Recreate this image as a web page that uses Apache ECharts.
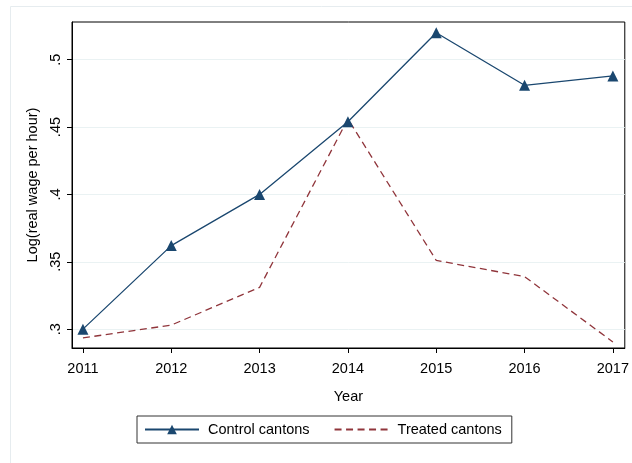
<!DOCTYPE html>
<html><head><meta charset="utf-8">
<script src="https://cdn.jsdelivr.net/npm/echarts@6/dist/echarts.min.js"></script>
<style>html,body{margin:0;padding:0;background:#fff}#c{width:632px;height:463px}</style>
</head><body><div id="c"></div>
<script>
const years = [2011, 2012, 2013, 2014, 2015, 2016, 2017];
const control = [0.300, 0.362, 0.400, 0.454, 0.520, 0.481, 0.488];
const treated = [0.2935, 0.303, 0.331, 0.456, 0.351, 0.339, 0.2905];
const yTicks = [0.3, 0.35, 0.4, 0.45, 0.5];
const yTickLabels = ['.3', '.35', '.4', '.45', '.5'];

const chart = echarts.init(document.getElementById('c'), null, {renderer: 'canvas'});
const font = 'Liberation Sans, Arial, Helvetica, sans-serif';
chart.setOption({
  animation: false,
  textStyle: {fontFamily: font},
  graphic: [{
    type: 'rect', shape: {x: 10.5, y: 6.5, width: 640, height: 470},
    style: {fill: 'none', stroke: '#e6ecef', lineWidth: 1}, silent: true, z: -10
  }],
  grid: {left: 72, top: 22, right: 4, bottom: 115, show: true, borderColor: '#000', borderWidth: 1, backgroundColor: '#fff'},
  xAxis: {
    type: 'value', min: 2010.876, max: 2017.135,
    name: 'Year', nameLocation: 'middle', nameGap: 41,
    nameTextStyle: {fontSize: 14.5, color: '#000', fontFamily: font},
    axisLine: {show: true, lineStyle: {color: '#000', width: 1}},
    axisTick: {show: true, length: 5, lineStyle: {color: '#000'}, customValues: years},
    axisLabel: {fontSize: 14.5, color: '#000', margin: 13, customValues: years, formatter: v => String(v), showMaxLabel: true, showMinLabel: true},
    splitLine: {show: false}
  },
  yAxis: {
    type: 'value', min: 0.286, max: 0.528,
    name: 'Log(real wage per hour)', nameLocation: 'middle', nameGap: 25,
    nameTextStyle: {fontSize: 14.5, color: '#000', fontFamily: font},
    axisLine: {show: true, lineStyle: {color: '#000', width: 1}},
    axisTick: {show: true, length: 5, lineStyle: {color: '#000'}, customValues: yTicks},
    axisLabel: {fontSize: 14.5, color: '#000', margin: 9, rotate: 90, customValues: yTicks,
      formatter: v => { const i = yTicks.findIndex(t => Math.abs(t - v) < 1e-6); return i >= 0 ? yTickLabels[i] : ''; }},
    splitLine: {show: true, lineStyle: {color: '#eaf2f3', width: 1}}
  },
  legend: {
    top: 416, left: 137,
    itemWidth: 54, itemHeight: 12, itemGap: 24,
    padding: [6, 10, 6, 7],
    borderColor: '#333', borderWidth: 1,
    textStyle: {fontSize: 14.5, color: '#000', fontFamily: font, padding: [0, 0, 0, 4]},
    data: [
      {name: 'Control cantons'},
      {name: 'Treated cantons', itemStyle: {opacity: 0}}
    ]
  },
  series: [{
    name: 'Control cantons', type: 'line',
    data: years.map((y, i) => [y, control[i]]),
    symbol: 'triangle', symbolSize: 11, showSymbol: true,
    itemStyle: {color: '#1a476f'},
    lineStyle: {color: '#1a476f', width: 1.3}
  }, {
    name: 'Treated cantons', type: 'line',
    data: years.map((y, i) => [y, treated[i]]),
    symbol: 'none',
    itemStyle: {color: '#90353b'},
    lineStyle: {color: '#90353b', width: 1.3, type: [7, 4.5]}
  }]
});
</script></body></html>
